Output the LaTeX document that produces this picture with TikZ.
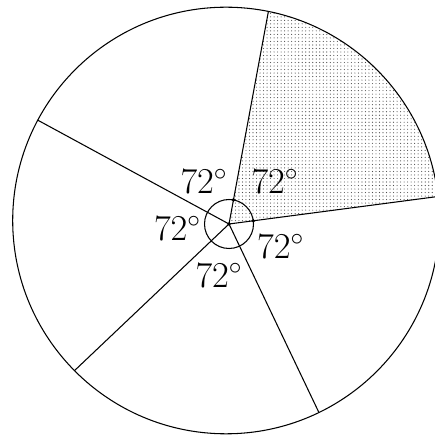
\documentclass[tikz,border=0pt]{standalone}
\usetikzlibrary{calc,patterns.meta}
\tikzset{
  spoke/.style={line width=0.6pt},
  ang/.style={font=\fontsize{20}{24}\selectfont, inner sep=0pt},
  pt/.style={circle, fill, inner sep=0pt, minimum size=2.2pt},
  shade/.style={pattern={Dots[distance=2pt, radius=0.33pt]}, pattern color=black!70},
}
\begin{document}
\begin{tikzpicture}[x=0.02cm,y=0.02cm]
  \useasboundingbox (0,0) rectangle (435,435);
  \clip (0,0) rectangle (435,435);
  \coordinate (C) at (226,214.5);
  \coordinate (O) at (229,211);
  % rim points of the five spokes
  \foreach \a/\l [count=\i] in {7.5/210.7,79.5/216.2,151.5/217.6,223.5/213,295.5/208.8}
    \coordinate (r\i) at ($(O)+(\a:\l)$);

  \begin{scope}
    \clip (C) circle[radius=213.3];
    \fill[shade] (O) -- ($(O)+(7.5:300)$) -- ($(O)+(79.5:300)$) -- cycle;
  \end{scope}
  \draw[spoke] (C) circle[radius=213.3];
  \foreach \i in {1,...,5}
    \draw[spoke] (O) -- (r\i);

  % small angle circle
  \draw[spoke] (O) circle[radius=24.5];
  \node[pt] (c0) at (O) {};
  \node[pt] (c1) at ($(O)+(7.5:24.5)$) {};
  \node[pt] (c2) at ($(O)+(79.5:24.5)$) {};

  \node[ang] (aUR) at (275,253.3) {$72^\circ$};
  \node[ang] (aUL) at (204,253.3) {$72^\circ$};
  \node[ang] (aL) at (177.5,206.7) {$72^\circ$};
  \node[ang] (aB) at (219,160) {$72^\circ$};
  \node[ang] (aR) at (280.7,188.3) {$72^\circ$};
\end{tikzpicture}
\end{document}
